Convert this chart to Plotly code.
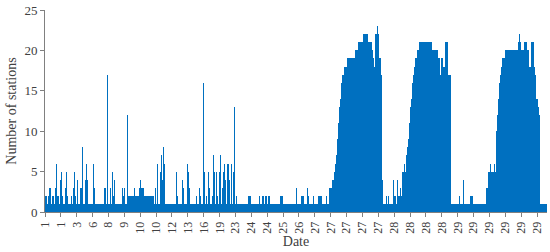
import plotly.graph_objects as go

# Number of stations per time step (one bar per step)
stations = [
    2, 2, 1, 2, 3, 3, 1, 2, 2, 1,
    3, 6, 2, 2, 1, 4, 5, 2, 1, 1,
    3, 5, 2, 1, 1, 1, 2, 1, 3, 5,
    2, 1, 4, 1, 1, 3, 3, 8, 1, 1,
    4, 6, 4, 1, 1, 1, 1, 1, 6, 3,
    1, 1, 1, 1, 1, 1, 1, 1, 1, 3,
    3, 1, 17,
    1, 1, 1, 3, 1, 5, 2, 4, 1, 1, 1,
    1, 1, 1, 1, 3, 2, 3, 1, 1, 12,
    2, 2, 2, 2, 2, 2, 3, 2, 2, 2,
    2, 3, 4, 3, 3, 3, 2, 2, 2, 2,
    2, 2, 2, 2, 2, 2, 1, 3, 1, 6,
    1, 1, 5, 7, 4, 8, 6, 1, 1, 1,
    1, 1, 1, 1, 1, 1, 1, 1, 5, 2,
    1, 1, 1, 1, 4, 3, 1, 1, 1, 6,
    5, 3, 1, 1, 1, 1, 1, 1, 2, 1,
    1, 3, 2, 1, 1, 16, 5, 1, 2, 1,
    5, 3, 1, 1, 2, 7, 5, 1, 5, 2,
    1, 5, 7, 1, 3, 5, 6, 4, 1, 6,
    6, 4, 1, 6, 1,
    5, 5,
    13, 1, 2, 1, 1, 1, 1, 1, 1, 1,
    1, 1, 1, 1, 2, 2, 2, 1, 1, 1,
    1, 1, 1, 1, 1, 2, 1, 1, 2, 2,
    1, 2, 2, 1, 2, 2, 1, 1, 1, 1,
    1, 1, 1, 1, 1, 1, 2, 2, 2, 1,
    1, 1, 1, 1, 1, 1, 1, 1, 1, 1,
    1, 1, 3, 1, 1, 1, 1, 2, 2, 2,
    1, 1, 1, 3, 2, 1, 1, 1, 1, 2,
    1, 1, 1, 1, 2, 2, 2, 2, 1, 1,
    1, 1, 2, 1, 1,
    3, 3, 3, 4, 4, 5, 6, 7, 9, 11,
    13, 14, 16, 17, 17, 18, 18, 18, 19, 19,
    19, 19, 19, 19, 19, 19, 20, 20, 20,
    21, 21,
    21, 21, 21, 21, 22, 22, 22, 22, 22, 21,
    21, 21, 21, 20, 19, 18, 22, 22, 23, 22,
    19, 19, 17, 4, 1, 1, 1, 2, 1, 2,
    1, 1, 1, 1, 4, 2, 2, 1, 4, 2,
    2, 3, 2, 5, 5, 6, 5, 7, 8, 9,
    11, 13, 14, 16, 17, 18, 19, 19, 20, 20,
    21, 21, 21, 21, 21, 21, 21, 21, 21, 21,
    21, 21, 21, 20, 20, 20, 20, 20, 20, 19,
    19, 17, 19, 19, 18, 18, 21, 21, 21, 17,
    17, 17, 1, 1, 1, 1, 1, 1, 1, 1,
    2, 1, 1, 1, 4, 1, 1, 1, 1, 1,
    1, 2, 2, 2, 1, 1, 1, 1, 1, 1,
    1, 1, 1, 1,
    1, 1,
    1, 1, 3, 3, 5, 5, 6, 5, 5, 5,
    6, 5, 10, 12, 14, 16, 17, 18, 19, 19,
    19, 20, 20, 20, 20, 20, 20, 20, 20, 20,
    20, 20, 20, 20, 21, 22, 21, 20, 20, 20,
    21, 21, 21, 20, 20, 18, 18, 21, 21, 21,
    18, 17, 14, 14, 13, 12, 1, 1, 1, 1,
    1, 1, 1,
]

# Date label shown every 16 steps
date_labels = ['1', '1', '3', '6', '8', '9', '10', '10', '12', '13',
               '16', '19', '23', '24', '24', '25', '26', '27', '27', '27',
               '27', '27', '28', '28', '28', '28', '29', '29', '29', '29',
               '29', '29']
steps_per_label = 16

n = len(stations)
steps = list(range(n))
tick_pos = [i * steps_per_label - 0.5 for i in range(len(date_labels))]

font_family = 'Liberation Serif, Times New Roman, serif'

fig = go.Figure()
fig.add_trace(go.Bar(
    x=steps,
    y=stations,
    marker_color='#0070C0',
    marker_line_width=0,
    showlegend=False,
))

fig.update_layout(
    width=550,
    height=252,
    margin=dict(l=45, r=3, t=10, b=40),
    paper_bgcolor='white',
    plot_bgcolor='white',
    bargap=0,
    font=dict(family=font_family, size=13, color='#404040'),
)

fig.update_xaxes(
    range=[-0.5, n - 0.5],
    tickmode='array',
    tickvals=tick_pos,
    ticktext=date_labels,
    tickangle=-90,
    ticks='outside',
    ticklen=4,
    tickcolor='#808080',
    showline=True,
    linecolor='#808080',
    linewidth=1,
    showgrid=False,
    zeroline=False,
    automargin=False,
    tickfont=dict(size=12),
    title=dict(text='Date', font=dict(size=14), standoff=0),
)

fig.update_yaxes(
    range=[0, 25],
    dtick=5,
    ticks='outside',
    ticklen=4,
    tickcolor='#808080',
    showline=True,
    linecolor='#808080',
    linewidth=1,
    showgrid=False,
    zeroline=False,
    automargin=False,
    tickfont=dict(size=13),
    title=dict(text='Number of stations', font=dict(size=14), standoff=4),
)

# drop the browser's default body margin so the figure fills the window
fig.write_html('out.html', config={'staticPlot': True},
               post_script="document.body.style.margin='0';")
print('bars:', n)
